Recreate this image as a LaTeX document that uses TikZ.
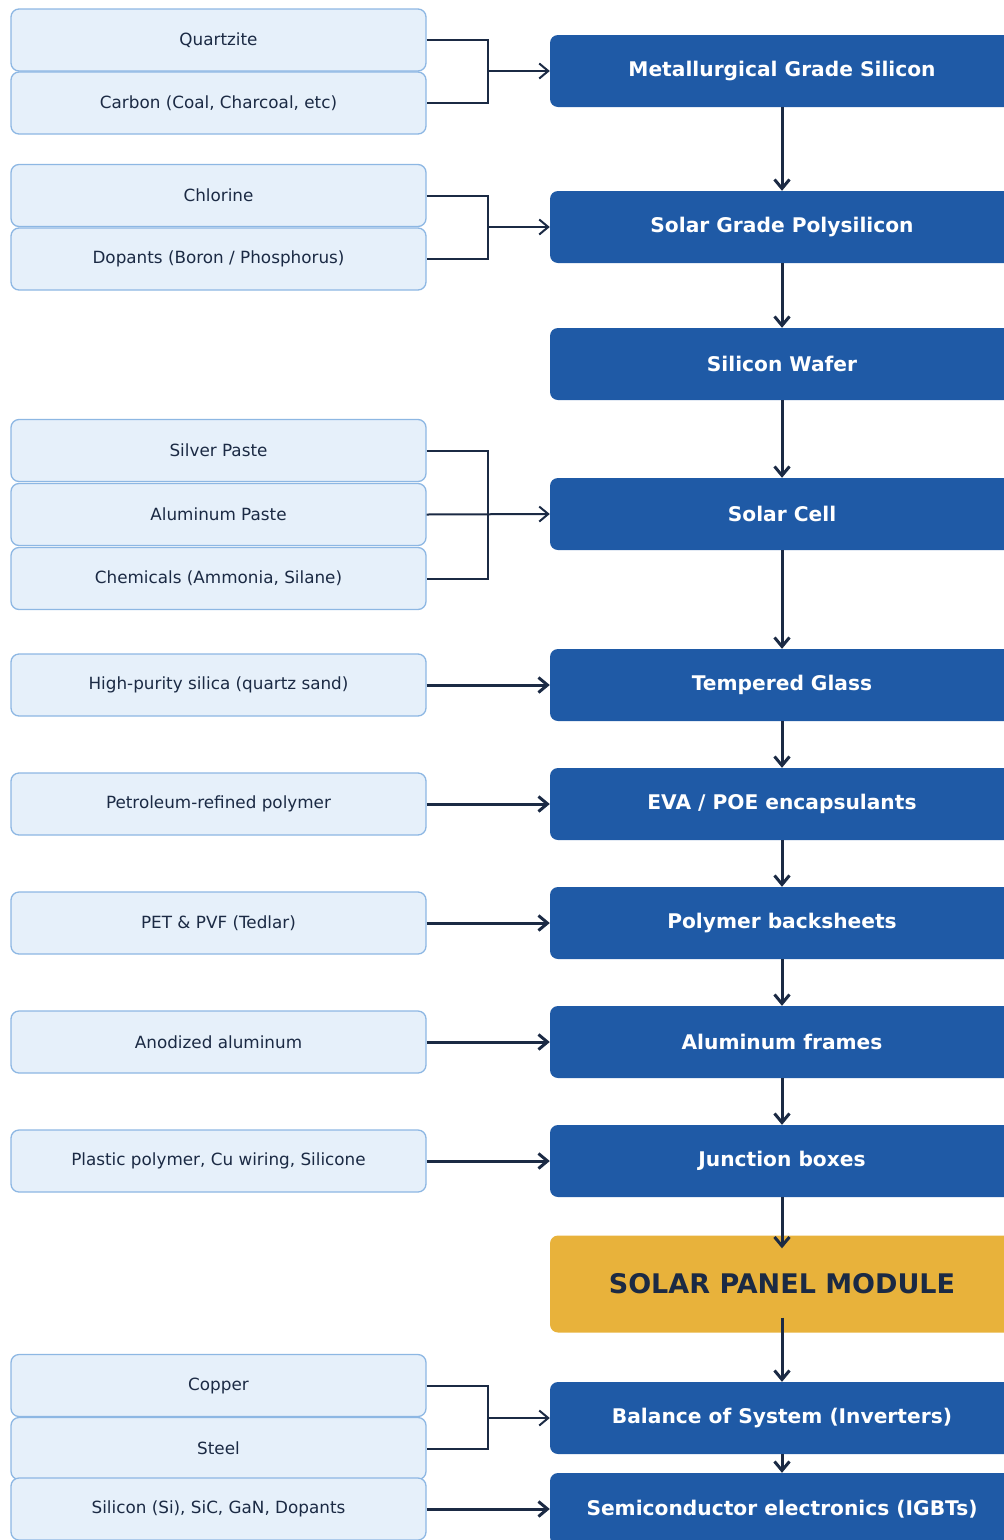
\documentclass[tikz,border=0pt]{standalone}
\usepackage{fontspec}
\setmainfont{DejaVu Sans}
\usepackage{tikz}
\usetikzlibrary{calc, positioning, arrows.meta}
\definecolor{rawfill}{HTML}{E6F0FA}
\definecolor{rawedge}{HTML}{8DB7E3}
\definecolor{stageblue}{HTML}{1F5AA6}
\definecolor{gold}{HTML}{E8B23B}
\definecolor{ink}{HTML}{1B2A44}
\tikzstyle{raw}=[draw=rawedge, fill=rawfill, rounded corners=8pt, line width=1.3pt, minimum width=415pt, minimum height=62pt, inner sep=0pt, text=ink, font=\fontsize{16.8}{19}\selectfont]
\tikzstyle{stage}=[fill=stageblue, rounded corners=8pt, minimum width=464pt, minimum height=72pt, inner sep=0pt, text=white, font=\fontsize{20.2}{23}\selectfont\bfseries]
\tikzstyle{module}=[fill=gold, rounded corners=8pt, minimum width=464pt, minimum height=97pt, inner sep=0pt, text=ink, font=\fontsize{27}{30}\selectfont\bfseries]
\tikzstyle{feed}=[draw=ink, line width=2pt]
\tikzstyle{flow}=[draw=ink, line width=3pt]
\tikzset{>={Straight Barb[length=9pt, width=15pt]}}

\begin{document}
\begin{tikzpicture}[x=1pt, y=-1pt]
\useasboundingbox (0,0) rectangle (1004,1540);
\clip (0,0) rectangle (1004,1540);
% the stages of the chain
\node[stage] (mgs) at (782, 71) {Metallurgical Grade Silicon};
\node[stage] (sgp) at (782, 227) {Solar Grade Polysilicon};
\node[stage] (wafer) at (782, 364) {Silicon Wafer};
\node[stage] (cell) at (782, 514) {Solar Cell};
\node[stage] (glass) at (782, 685) {Tempered Glass};
\node[stage] (eva) at (782, 804) {EVA / POE encapsulants};
\node[stage] (back) at (782, 923) {Polymer backsheets};
\node[stage] (frame) at (782, 1042) {Aluminum frames};
\node[stage] (jbox) at (782, 1161) {Junction boxes};
\node[module] (spm) at (782, 1284) {SOLAR PANEL MODULE};
\node[stage] (bos) at (782, 1418) {Balance of System (Inverters)};
\node[stage] (igbt) at (782, 1509) {Semiconductor electronics (IGBTs)};
% the raw materials
\node[raw] (Q) at (218.5, 40) {Quartzite};
\node[raw] (Cb) at (218.5, 103) {Carbon (Coal, Charcoal, etc)};
\node[raw] (Cl) at (218.5, 195.5) {Chlorine};
\node[raw] (Dp) at (218.5, 259) {Dopants (Boron / Phosphorus)};
\node[raw] (Ag) at (218.5, 450.5) {Silver Paste};
\node[raw] (Al) at (218.5, 514.5) {Aluminum Paste};
\node[raw] (Ch) at (218.5, 578.5) {Chemicals (Ammonia, Silane)};
\node[raw] (Sa) at (218.5, 685) {High-purity silica (quartz sand)};
\node[raw] (Pe) at (218.5, 804) {Petroleum-refined polymer};
\node[raw] (Pv) at (218.5, 923) {PET \& PVF (Tedlar)};
\node[raw] (An) at (218.5, 1042) {Anodized aluminum};
\node[raw] (Pl) at (218.5, 1161) {Plastic polymer, Cu wiring, Silicone};
\node[raw] (Cu) at (218.5, 1385.5) {Copper};
\node[raw] (St) at (218.5, 1448.5) {Steel};
\node[raw] (Sc) at (218.5, 1509) {Silicon (Si), SiC, GaN, Dopants};
% the junctions of the brackets
\coordinate (j1) at (488, 71);
\coordinate (j2) at (488, 227);
\coordinate (j3) at (488, 514.5);
\coordinate (j4) at (488, 1418);
% the brackets
\draw[feed] (Q.east) -| (j1) |- (Cb.east);
\draw[feed, ->] (j1) -- (mgs.west);
\draw[feed] (Cl.east) -| (j2) |- (Dp.east);
\draw[feed, ->] (j2) -- (sgp.west);
\draw[feed] (Ag.east) -| (j3) |- (Ch.east);
\draw[feed, ->] (Al.east) -- (cell.west);
\draw[feed] (Cu.east) -| (j4) |- (St.east);
\draw[feed, ->] (j4) -- (bos.west);
% the single feeds
\draw[flow, ->] (Sa.east) -- (glass.west);
\draw[flow, ->] (Pe.east) -- (eva.west);
\draw[flow, ->] (Pv.east) -- (back.west);
\draw[flow, ->] (An.east) -- (frame.west);
\draw[flow, ->] (Pl.east) -- (jbox.west);
\draw[flow, ->] (Sc.east) -- (igbt.west);
% the main chain
\draw[flow, ->] (mgs) -- (sgp);
\draw[flow, ->] (sgp) -- (wafer);
\draw[flow, ->] (wafer) -- (cell);
\draw[flow, ->] (cell) -- (glass);
\draw[flow, ->] (glass) -- (eva);
\draw[flow, ->] (eva) -- (back);
\draw[flow, ->] (back) -- (frame);
\draw[flow, ->] (frame) -- (jbox);
\draw[flow, ->, shorten >=-13pt] (jbox) -- (spm);
\draw[flow, ->, shorten <=-15pt] (spm) -- (bos);
\draw[flow, ->] (bos) -- (igbt);
\end{tikzpicture}
\end{document}
